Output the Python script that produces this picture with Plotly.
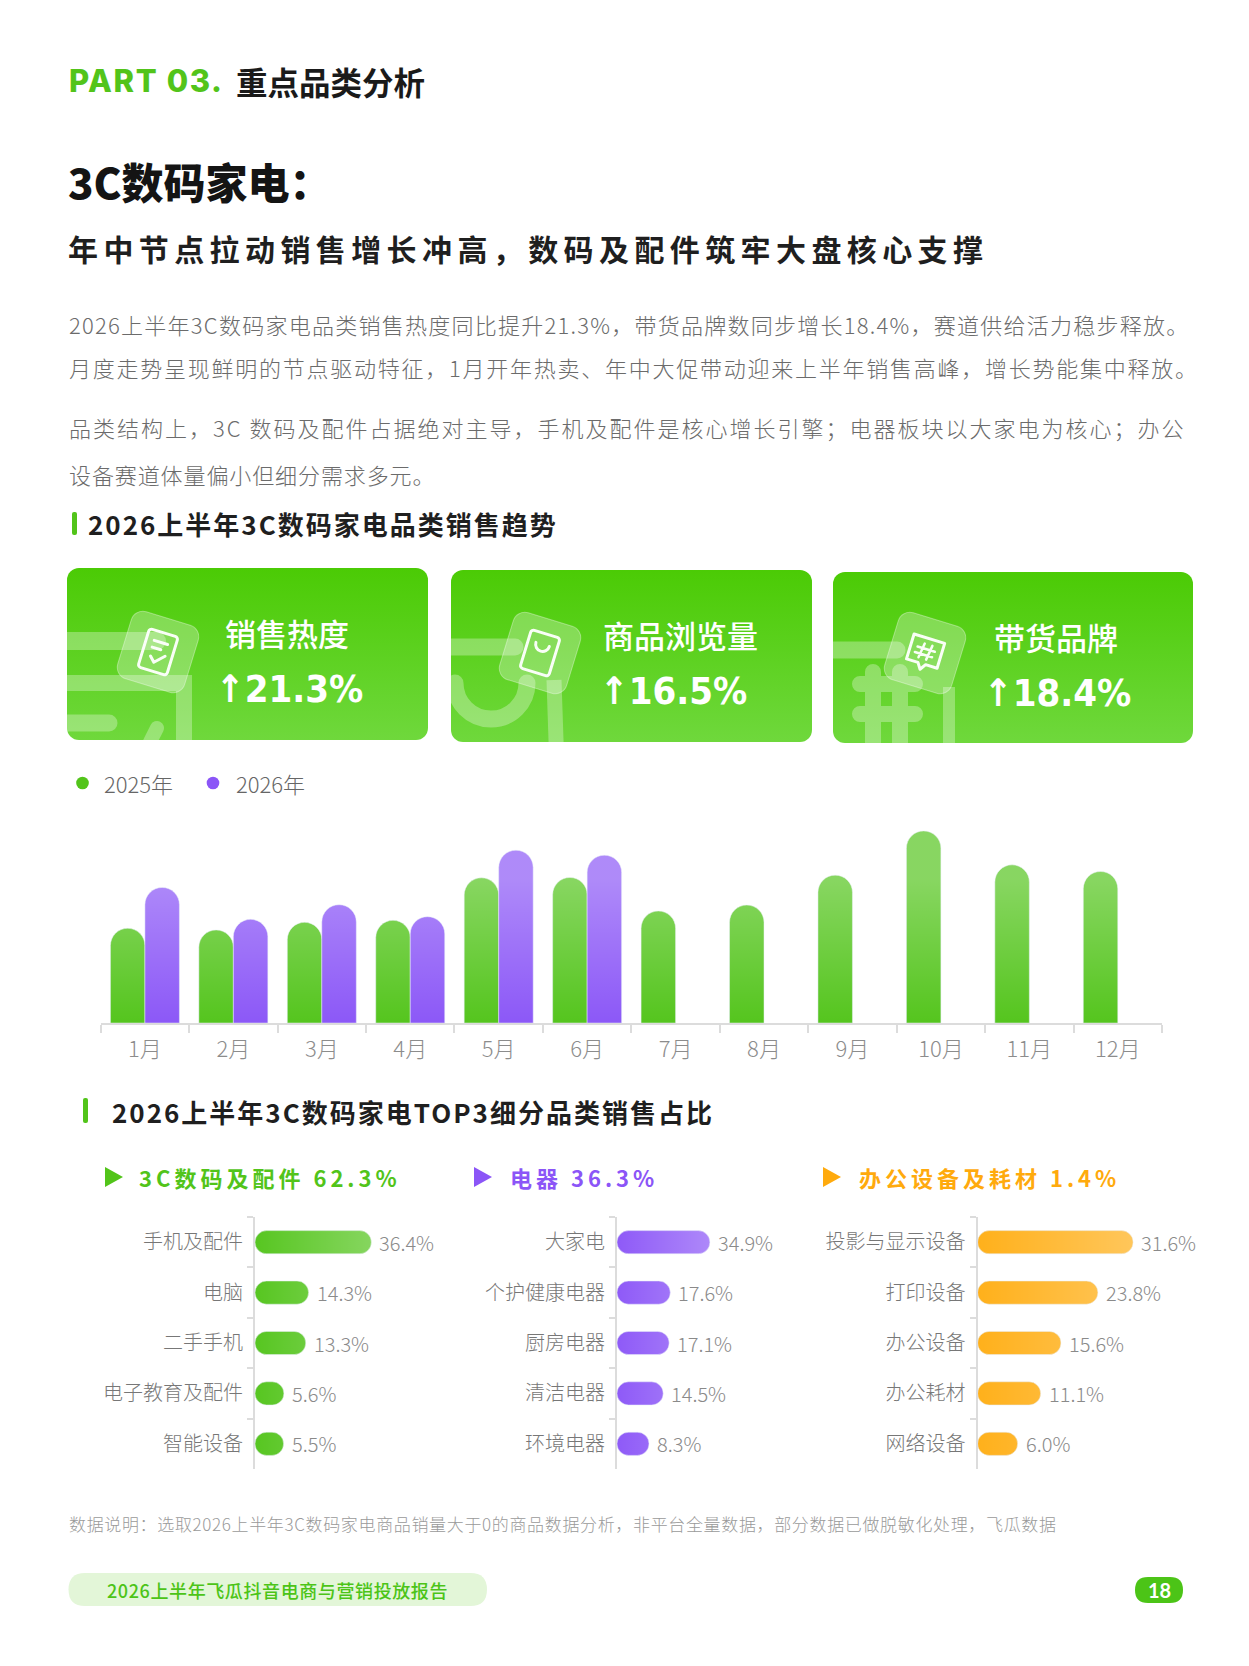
import base64
import plotly.graph_objects as go

W, H = 1249, 1666
OFF = 8                      # browser body margin
FW, FH = W - 2 * OFF, H - 2 * OFF

# ---- data ----
months = ["1月", "2月", "3月", "4月", "5月", "6月", "7月", "8月", "9月", "10月", "11月", "12月"]
sales_2025 = [28.5, 28.0, 30.3, 30.9, 43.7, 43.8, 33.7, 35.5, 44.5, 57.8, 47.6, 45.6]
sales_2026 = [40.8, 31.2, 35.6, 32.0, 52.0, 50.5, None, None, None, None, None, None]

kpi_names = ["销售热度", "商品浏览量", "带货品牌"]
kpi_growth = [21.3, 16.5, 18.4]

group_names = ["3C数码及配件", "电器", "办公设备及耗材"]
group_share = [62.3, 36.3, 1.4]

digital_cats = ["手机及配件", "电脑", "二手手机", "电子教育及配件", "智能设备"]
digital_share = [36.4, 14.3, 13.3, 5.6, 5.5]
appliance_cats = ["大家电", "个护健康电器", "厨房电器", "清洁电器", "环境电器"]
appliance_share = [34.9, 17.6, 17.1, 14.5, 8.3]
office_cats = ["投影与显示设备", "打印设备", "办公设备", "办公耗材", "网络设备"]
office_share = [31.6, 23.8, 15.6, 11.1, 6.0]

GREEN = "#52C41A"
PURPLE = "#8B55F7"
ORANGE = "#FFAA0D"
CJK = "Noto Sans CJK SC"


def px(x):
    return (x - OFF) / FW


def py(y):
    return 1 - (y - OFF) / FH


def rrect(x0, y0, x1, y1, r):
    # rounded rectangle path in paper coords
    a, b, c, d = px(x0), px(x1), py(y0), py(y1)
    rx, ry = r / FW, r / FH
    return (f"M {a+rx} {c} L {b-rx} {c} Q {b} {c} {b} {c-ry} L {b} {d+ry} Q {b} {d} {b-rx} {d} "
            f"L {a+rx} {d} Q {a} {d} {a} {d+ry} L {a} {c-ry} Q {a} {c} {a+rx} {c} Z")


def ls(text, sp):
    return f'<span style="letter-spacing:{sp}px">{text}</span>'


annotations = []
shapes = []
images = []


def label(x, y, text, size, color="#222", weight="normal", family=CJK, anchor="left"):
    annotations.append(dict(x=px(x), y=py(y), xref="paper", yref="paper", text=text,
                            showarrow=False, xanchor=anchor, yanchor="middle",
                            font=dict(family=family, size=size, color=color, weight=weight)))


# ---- header texts ----
label(67, 81, ls("PART 03.", 1.6), 31, GREEN, 800, "Inter")
label(234, 81, "重点品类分析", 31.5, "#1a1a1a", "bold")
label(66, 180, "3C数码家电：", 42, "#141414", 900)
label(66, 248, ls("年中节点拉动销售增长冲高，数码及配件筑牢大盘核心支撑", 5.4), 30, "#1f1f1f", "bold")

para_lines = [
    (324, "2026上半年3C数码家电品类销售热度同比提升21.3%，带货品牌数同步增长18.4%，赛道供给活力稳步释放。", 1.25),
    (367, "月度走势呈现鲜明的节点驱动特征，1月开年热卖、年中大促带动迎来上半年销售高峰，增长势能集中释放。", 1.75),
    (427, "品类结构上，3C 数码及配件占据绝对主导，手机及配件是核心增长引擎；电器板块以大家电为核心；办公", 2.0),
    (474, "设备赛道体量偏小但细分需求多元。", 0.9),
]
for yy, t, sp in para_lines:
    label(67, yy, ls(t, sp), 22, "#6b6b6b", 300)

# section titles
shapes.append(dict(type="path", path=rrect(72, 512, 77, 535, 2), xref="paper", yref="paper",
                   fillcolor=GREEN, line_width=0))
label(86, 523, ls("2026上半年3C数码家电品类销售趋势", 2), 26, "#1f1f1f", "bold")
shapes.append(dict(type="path", path=rrect(83, 1098, 88, 1123, 2), xref="paper", yref="paper",
                   fillcolor=GREEN, line_width=0))
label(110, 1111, ls("2026上半年3C数码家电TOP3细分品类销售占比", 2), 26, "#1f1f1f", "bold")

# ---- KPI cards (decorative svg backgrounds) ----
def card_svg(w, h, deco):
    svg = (f'<svg xmlns="http://www.w3.org/2000/svg" width="{w}" height="{h}" viewBox="0 0 {w} {h}">'
           '<defs><linearGradient id="g" x1="0" y1="0" x2="0" y2="1">'
           '<stop offset="0" stop-color="#4BCB05"/><stop offset="1" stop-color="#6FD83C"/></linearGradient>'
           f'<clipPath id="c"><rect width="{w}" height="{h}" rx="12"/></clipPath></defs>'
           f'<g clip-path="url(#c)"><rect width="{w}" height="{h}" fill="url(#g)"/>'
           f'<g stroke="white" stroke-opacity="0.3" fill="none" stroke-linecap="round">{deco}</g>'
           '</g></svg>')
    return "data:image/svg+xml;base64," + base64.b64encode(svg.encode()).decode()


def icon(cx, cy, inner):
    return (f'<g transform="translate({cx},{cy}) rotate(17)" stroke="none">'
            '<rect x="-35" y="-35" width="70" height="70" rx="12" fill="white" fill-opacity="0.27" '
            'stroke="white" stroke-opacity="0.35" stroke-width="1"/>'
            f'<g stroke="white" stroke-opacity="0.95" stroke-width="3" fill="none" '
            f'stroke-linecap="round" stroke-linejoin="round">{inner}</g></g>')


deco1 = ('<path d="M -20 73 H 90" stroke-width="18"/>'
         '<path d="M -20 115 H 117 V 200" stroke-width="16" stroke-linecap="butt"/>'
         '<path d="M -20 155 H 42" stroke-width="17"/>'
         '<path d="M 80 180 L 90 160" stroke-width="14"/>'
         + icon(91, 84, '<rect x="-15" y="-20" width="30" height="40" rx="3"/>'
                       '<path d="M -7 -10 H 7 M -7 -3 H 2 M -6 6 L -1 11 L 8 2"/>'))
deco2 = ('<path d="M -20 77 H 64" stroke-width="17"/>'
         '<path d="M 4 113 A 36 36 0 0 0 76 113" stroke-width="17"/>'
         '<path d="M 103 110 L 106 200" stroke-width="15" stroke-linecap="butt"/>'
         + icon(89, 83, '<rect x="-15" y="-20" width="30" height="40" rx="3"/>'
                       '<path d="M -7 -9 A 7 7 0 0 0 7 -9"/>'))
deco3 = ('<path d="M -20 78 H 64" stroke-width="17"/>'
         '<path d="M 40 100 V 190 M 67 100 V 190 M 27 112 H 82 M 27 142 H 82" stroke-width="16"/>'
         '<path d="M 116 115 V 200" stroke-width="12" stroke-linecap="butt"/>'
         + icon(92, 81, '<path d="M -16 -15 H 16 V 11 H 4 L 0 17 L -4 11 H -16 Z"/>'
                       '<path d="M -3 -9 L -5 6 M 5 -9 L 3 6 M -9 -4 H 9 M -10 2 H 8" stroke-width="2.5"/>'))

cards = [(67, 568, 361, 172, deco1, 223, 214), (451, 570, 361, 172, deco2, 601, 598),
         (833, 572, 360, 171, deco3, 992, 982)]
for (cx, cy, cw, ch, deco, tx, vx), name, g in zip(cards, kpi_names, kpi_growth):
    images.append(dict(source=card_svg(cw, ch, deco), xref="paper", yref="paper",
                       x=px(cx), y=py(cy), sizex=cw / FW, sizey=ch / FH,
                       xanchor="left", yanchor="top", sizing="stretch", layer="below"))
    label(tx, cy + 64, name, 31, "white", 500)
    label(vx, cy + 121, f"↑{g}%", 38, "white", "bold", "DejaVu Sans Condensed")

# ---- legend ----
for cxl, col, name, tx in [(82.5, GREEN, "2025年", 102), (213, PURPLE, "2026年", 234)]:
    shapes.append(dict(type="circle", xref="paper", yref="paper", x0=px(cxl - 6.3), x1=px(cxl + 6.3),
                       y0=py(783 - 6.3), y1=py(783 + 6.3), fillcolor=col, line_width=0))
    label(tx, 783, name, 22, "#666666", 300)

# ---- monthly trend bars ----
fig = go.Figure()
fig.add_trace(go.Bar(x=months, y=sales_2025, name="2025年", marker=dict(color="#55C51E", cornerradius="50%"),
                     xaxis="x", yaxis="y", hoverinfo="skip"))
fig.add_trace(go.Bar(x=months, y=sales_2026, name="2026年", marker=dict(color="#8C58F7", cornerradius="50%"),
                     xaxis="x", yaxis="y", hoverinfo="skip"))

# soft white sheen over the plot area to give the bars their light-top gradient
fig.add_trace(go.Scatter(x=[0, 1, 1, 0, 0], y=[0, 0, 1, 1, 0], mode="lines", fill="toself",
                         line=dict(width=0), xaxis="x5", yaxis="y5", hoverinfo="skip",
                         fillgradient=dict(type="vertical", start=0, stop=1,
                                           colorscale=[[0, "rgba(255,255,255,0)"],
                                                       [0.7, "rgba(255,255,255,0.3)"],
                                                       [1, "rgba(255,255,255,0.3)"]])))

# ---- group headers ----
header_pos = [(105, 137, GREEN), (474, 508, PURPLE), (823, 857, ORANGE)]
for (tx0, txt, col), name, share in zip(header_pos, group_names, group_share):
    shapes.append(dict(type="path", xref="paper", yref="paper", fillcolor=col, line_width=0,
                       path=f"M {px(tx0)} {py(1167)} L {px(tx0)} {py(1187)} L {px(tx0 + 18)} {py(1177)} Z"))
    label(txt, 1177, ls(f"{name} {share}%", 4), 22, col, "bold")

# ---- TOP5 horizontal bars ----
hcharts = [
    (digital_cats, digital_share, GREEN, 255, 200, 2.84, "2", "6"),
    (appliance_cats, appliance_share, PURPLE, 617, 200, 2.29, "3", "7"),
    (office_cats, office_share, "#FFAE14", 977.6, 220, 4.51, "4", "8"),
]
layout_axes = {
    "xaxis5": dict(domain=[px(100.7), px(1162)], range=[0, 1], visible=False, anchor="y5", fixedrange=True),
    "yaxis5": dict(domain=[py(1023), py(817)], range=[0, 1], visible=False, anchor="x5", fixedrange=True),
}
for cats, vals, col, ax0, span, scale, n, m in hcharts:
    stub = 13 / scale
    fig.add_trace(go.Bar(
        y=cats, x=[v + stub for v in vals], base=-stub, orientation="h", width=0.46,
        marker=dict(color=col, cornerradius="50%"),
        xaxis="x" + n, yaxis="y" + n, hoverinfo="skip"))
    reach = (max(vals) + stub) * scale / span
    fig.add_trace(go.Scatter(x=[0, 1, 1, 0, 0], y=[0, 0, 1, 1, 0], mode="lines", fill="toself",
                             line=dict(width=0), xaxis="x" + m, yaxis="y" + m, hoverinfo="skip",
                             fillgradient=dict(type="horizontal", start=0, stop=1,
                                               colorscale=[[0, "rgba(255,255,255,0.03)"],
                                                           [reach, "rgba(255,255,255,0.3)"],
                                                           [1, "rgba(255,255,255,0.3)"]])))
    for c, v in zip(cats, vals):
        annotations.append(dict(x=v, y=c, xref="x" + n, yref="y" + n, text=f"{v}%", showarrow=False,
                                xanchor="left", yanchor="middle", xshift=6,
                                font=dict(family=CJK, size=20, color="#8a8a8a", weight=300)))
    layout_axes["xaxis" + n] = dict(domain=[px(ax0), px(ax0 + span)], range=[-stub, -stub + span / scale],
                                    visible=False, anchor="y" + n, fixedrange=True)
    layout_axes["yaxis" + n] = dict(domain=[py(1469), py(1217)], type="category", autorange="reversed",
                                    anchor="x" + n, showline=True, linecolor="#dcdcdc", linewidth=2,
                                    ticks="outside", tickson="boundaries", ticklen=6, tickwidth=2,
                                    tickcolor="#dcdcdc", ticklabelstandoff=6, showgrid=False,
                                    tickfont=dict(family=CJK, size=20, color="#777777", weight=300))
    layout_axes["xaxis" + m] = dict(domain=[px(ax0), px(ax0 + span)], range=[0, 1], visible=False,
                                    anchor="y" + m, fixedrange=True)
    layout_axes["yaxis" + m] = dict(domain=[py(1469), py(1217)], range=[0, 1], visible=False,
                                    anchor="x" + m, fixedrange=True)

# ---- footnote & footer ----
label(67, 1523, ls("数据说明：选取2026上半年3C数码家电商品销量大于0的商品数据分析，非平台全量数据，部分数据已做脱敏化处理，飞瓜数据", 0.65),
      17, "#9a9a9a", 300)
shapes.append(dict(type="path", path=rrect(68.5, 1573, 487, 1606, 16.5), xref="paper", yref="paper",
                   fillcolor="#E3F6D8", line_width=0))
label(277, 1589.5, ls("2026上半年飞瓜抖音电商与营销投放报告", 0.6), 18, "#4CC417", 500, anchor="center")
shapes.append(dict(type="path", path=rrect(1135, 1577, 1183, 1603, 13), xref="paper", yref="paper",
                   fillcolor="#4CC417", line_width=0))
label(1159, 1590, "18", 20, "white", "bold", "Lato", anchor="center")

fig.update_layout(
    width=FW, height=FH, margin=dict(l=0, r=0, t=0, b=0),
    paper_bgcolor="white", plot_bgcolor="rgba(0,0,0,0)",
    showlegend=False, barmode="group", bargap=0.22, bargroupgap=0,
    xaxis=dict(domain=[px(100.7), px(1162)], type="category", anchor="y", showline=True,
               linecolor="#dcdcdc", linewidth=2, ticks="outside", tickson="boundaries", ticklen=8,
               tickwidth=2, tickcolor="#dcdcdc", ticklabelstandoff=6, showgrid=False, fixedrange=True,
               tickfont=dict(family=CJK, size=22, color="#8c8c8c", weight=300)),
    yaxis=dict(domain=[py(1023), py(817)], range=[0, 62], visible=False, fixedrange=True),
    annotations=annotations, shapes=shapes, images=images,
    **layout_axes,
)

fig.write_html("out.html")
